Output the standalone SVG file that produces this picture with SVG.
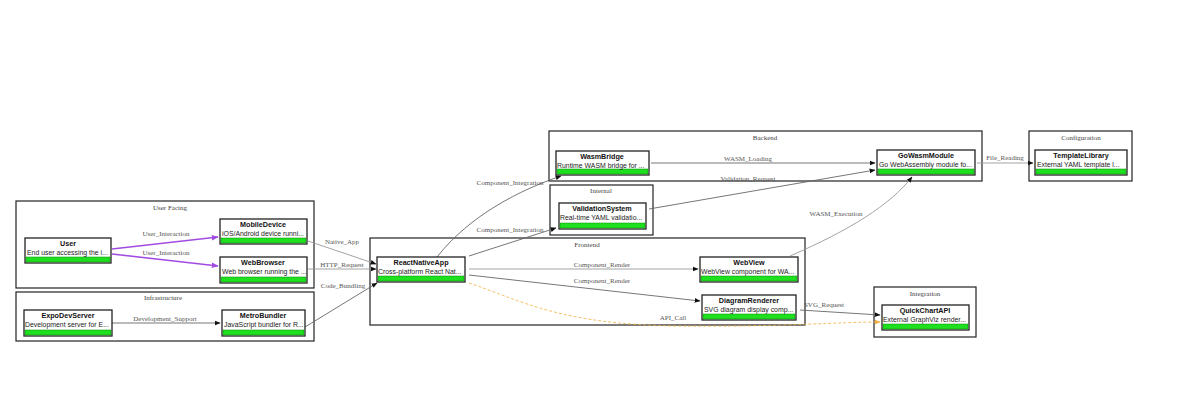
<svg xmlns="http://www.w3.org/2000/svg" width="1179" height="396" viewBox="0 0 1179 396">
<style>
.cl{fill:none;stroke:#222;stroke-width:1.2}
.ct{font-family:"Liberation Serif",serif;font-size:7px;fill:#444;text-anchor:middle}
.nb{fill:#fff;stroke:#222;stroke-width:1.3}
.gb{fill:#1ee01e;stroke:#0a8a0a;stroke-width:0.5}
.nt{font-family:"Liberation Sans",Arial,sans-serif;font-size:7.2px;font-weight:bold;fill:#111;text-anchor:middle}
.nd{font-family:"Liberation Sans",Arial,sans-serif;font-size:6.9px;fill:#222}
.e{fill:none;stroke:#666;stroke-width:0.9}
.el{stroke:#999}
.ep{fill:none;stroke:#a24be0;stroke-width:1.6}
.eo{fill:none;stroke:#f0b040;stroke-width:0.8;stroke-dasharray:3 2}
.lb{font-family:"Liberation Serif",serif;font-size:7px;fill:#555;text-anchor:middle}
</style>
<defs>
<marker id="a" viewBox="0 0 10 10" refX="9" refY="5" markerWidth="6" markerHeight="6" markerUnits="userSpaceOnUse" orient="auto"><path d="M0,1 L10,5 L0,9 z" fill="#111"/></marker>
<marker id="ap" viewBox="0 0 10 10" refX="9" refY="5" markerWidth="7" markerHeight="7" markerUnits="userSpaceOnUse" orient="auto"><path d="M0,1 L10,5 L0,9 z" fill="#a24be0"/></marker>
<marker id="ao" viewBox="0 0 10 10" refX="9" refY="5" markerWidth="6" markerHeight="6" markerUnits="userSpaceOnUse" orient="auto"><path d="M0,1 L10,5 L0,9 z" fill="#f0b040"/></marker>
</defs>
<rect width="1179" height="396" fill="#fff"/>
<g id="clusters">
<g id="cluster-userfacing"><rect class="cl" x="16" y="201" width="298" height="87"/><text class="ct" x="170" y="210">User Facing</text></g>
<g id="cluster-infrastructure"><rect class="cl" x="16" y="292" width="298" height="49"/><text class="ct" x="163" y="300">Infrastructure</text></g>
<g id="cluster-frontend"><rect class="cl" x="370" y="238" width="435" height="87"/><text class="ct" x="587" y="247">Frontend</text></g>
<g id="cluster-backend"><rect class="cl" x="549" y="131" width="433" height="50"/><text class="ct" x="765" y="140">Backend</text></g>
<g id="cluster-internal"><rect class="cl" x="550" y="185" width="103" height="50"/><text class="ct" x="601" y="193">Internal</text></g>
<g id="cluster-configuration"><rect class="cl" x="1029" y="131" width="103" height="50"/><text class="ct" x="1081" y="140">Configuration</text></g>
<g id="cluster-integration"><rect class="cl" x="874" y="287" width="102" height="50"/><text class="ct" x="925" y="296">Integration</text></g>
</g>
<g id="connectors">
<path class="ep" d="M112,249 L218,237" marker-end="url(#ap)"/>
<text class="lb" x="166" y="236">User_Interaction</text>
<path class="ep" d="M112,254 L218,266" marker-end="url(#ap)"/>
<text class="lb" x="166" y="255">User_Interaction</text>
<path class="e" d="M112,323 L220,323" marker-end="url(#a)"/>
<text class="lb" x="165" y="321">Development_Support</text>
<path class="e el" d="M308,241 L376,264" marker-end="url(#a)"/>
<text class="lb" x="342" y="244">Native_App</text>
<path class="e el" d="M308,269 L376,269" marker-end="url(#a)"/>
<text class="lb" x="342" y="267">HTTP_Request</text>
<path class="e" d="M305,327 L377,283" marker-end="url(#a)"/>
<text class="lb" x="343" y="288">Code_Bundling</text>
<path class="e" d="M437,257 C470,215 520,190 561,176" marker-end="url(#a)"/>
<text class="lb" x="510" y="185">Component_Integration</text>
<path class="e" d="M469,256 L556,228" marker-end="url(#a)"/>
<text class="lb" x="510" y="232">Component_Integration</text>
<path class="e el" d="M469,269 L698,269" marker-end="url(#a)"/>
<text class="lb" x="602" y="267">Component_Render</text>
<path class="e" d="M469,275 L700,301" marker-end="url(#a)"/>
<text class="lb" x="602" y="283">Component_Render</text>
<path class="eo" d="M469,283 C520,300 560,325 680,326 C780,327 840,322 880,322" marker-end="url(#ao)"/>
<text class="lb" x="673" y="320">API_Call</text>
<path class="e" d="M800,310 L880,315" marker-end="url(#a)"/>
<text class="lb" x="824" y="307">SVG_Request</text>
<path class="e" d="M651,163 L875,163" marker-end="url(#a)"/>
<text class="lb" x="748" y="161">WASM_Loading</text>
<path class="e" d="M649,209 L875,170" marker-end="url(#a)"/>
<text class="lb" x="748" y="181">Validation_Request</text>
<path class="e el" d="M790,256 C850,230 890,205 912,177" marker-end="url(#a)"/>
<text class="lb" x="836" y="216">WASM_Execution</text>
<path class="e el" d="M977,163 L1033,163" marker-end="url(#a)"/>
<text class="lb" x="1005" y="160">File_Reading</text>
</g>
<g id="nodes">
<g id="node-User"><rect class="nb" x="25" y="238" width="86" height="25"/><rect class="gb" x="26" y="257" width="84" height="5"/><text class="nt" x="68" y="246">User</text><text class="nd" x="27" y="255">End user accessing the i...</text></g>
<g id="node-MobileDevice"><rect class="nb" x="220" y="219" width="87" height="25"/><rect class="gb" x="221" y="238" width="85" height="5"/><text class="nt" x="263" y="227">MobileDevice</text><text class="nd" x="222" y="236">iOS/Android device runni...</text></g>
<g id="node-WebBrowser"><rect class="nb" x="220" y="257" width="87" height="26"/><rect class="gb" x="221" y="277" width="85" height="5"/><text class="nt" x="263" y="265">WebBrowser</text><text class="nd" x="222" y="274">Web browser running the ...</text></g>
<g id="node-ExpoDevServer"><rect class="nb" x="24" y="310" width="88" height="26"/><rect class="gb" x="25" y="330" width="86" height="5"/><text class="nt" x="68" y="318">ExpoDevServer</text><text class="nd" x="25" y="327">Development server for E...</text></g>
<g id="node-MetroBundler"><rect class="nb" x="222" y="310" width="83" height="26"/><rect class="gb" x="223" y="330" width="81" height="5"/><text class="nt" x="263" y="318">MetroBundler</text><text class="nd" x="224" y="327">JavaScript bundler for R...</text></g>
<g id="node-ReactNativeApp"><rect class="nb" x="377" y="257" width="88" height="25"/><rect class="gb" x="378" y="276" width="86" height="5"/><text class="nt" x="421" y="265">ReactNativeApp</text><text class="nd" x="378" y="274">Cross-platform React Nat...</text></g>
<g id="node-WasmBridge"><rect class="nb" x="556" y="151" width="93" height="24"/><rect class="gb" x="557" y="169" width="91" height="5"/><text class="nt" x="602" y="159">WasmBridge</text><text class="nd" x="557" y="168">Runtime WASM bridge for ...</text></g>
<g id="node-ValidationSystem"><rect class="nb" x="559" y="203" width="87" height="26"/><rect class="gb" x="560" y="223" width="85" height="5"/><text class="nt" x="602" y="211">ValidationSystem</text><text class="nd" x="560" y="220">Real-time YAML validatio...</text></g>
<g id="node-GoWasmModule"><rect class="nb" x="877" y="150" width="98" height="25"/><rect class="gb" x="878" y="169" width="96" height="5"/><text class="nt" x="926" y="158">GoWasmModule</text><text class="nd" x="879" y="167">Go WebAssembly module fo...</text></g>
<g id="node-TemplateLibrary"><rect class="nb" x="1035" y="150" width="92" height="25"/><rect class="gb" x="1036" y="169" width="90" height="5"/><text class="nt" x="1081" y="158">TemplateLibrary</text><text class="nd" x="1037" y="167">External YAML template l...</text></g>
<g id="node-WebView"><rect class="nb" x="700" y="257" width="98" height="25"/><rect class="gb" x="701" y="276" width="96" height="5"/><text class="nt" x="749" y="265">WebView</text><text class="nd" x="701" y="274">WebView component for WA...</text></g>
<g id="node-DiagramRenderer"><rect class="nb" x="702" y="295" width="94" height="25"/><rect class="gb" x="703" y="314" width="92" height="5"/><text class="nt" x="749" y="303">DiagramRenderer</text><text class="nd" x="704" y="312">SVG diagram display comp...</text></g>
<g id="node-QuickChartAPI"><rect class="nb" x="882" y="305" width="87" height="25"/><rect class="gb" x="883" y="324" width="85" height="5"/><text class="nt" x="925" y="313">QuickChartAPI</text><text class="nd" x="883" y="322">External GraphViz render...</text></g>
</g>
</svg>
